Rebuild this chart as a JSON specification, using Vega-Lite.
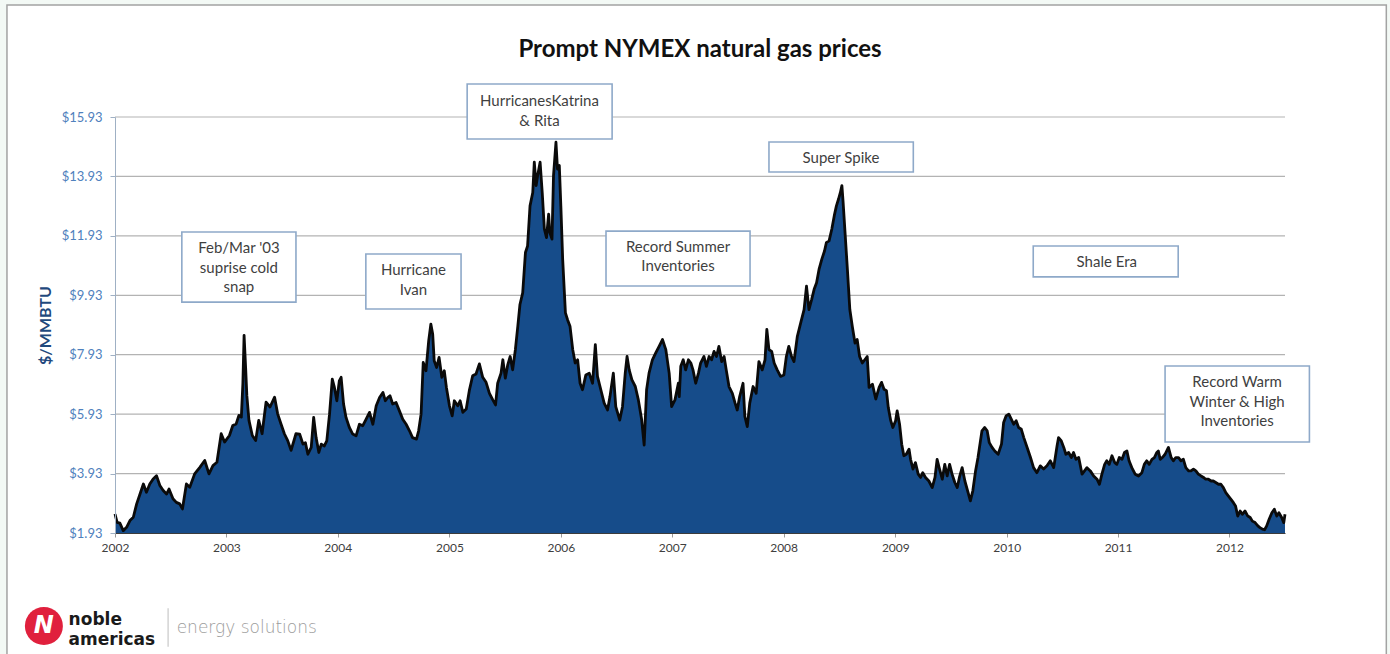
{
  "$schema": "https://vega.github.io/schema/vega-lite/v6.json",
  "width": 1170,
  "height": 416,
  "autosize": {"type": "none"},
  "padding": {"left": 115, "top": 117, "right": 105, "bottom": 121},
  "background": "#f3f9f5",
  "title": {
    "text": "Prompt NYMEX natural gas prices",
    "font": "Lato",
    "fontSize": 24,
    "fontWeight": "bold",
    "color": "#111111",
    "anchor": "middle",
    "frame": "group",
    "baseline": "alphabetic",
    "offset": -77
  },
  "config": {"view": {"stroke": null}, "font": "Lato"},
  "datasets": {
    "frame": [{"date": "2001-01-12", "date2": "2013-05-29", "price": 19.7, "price2": -2.4}],
    "grid": [{"price": 3.93}, {"price": 5.93}, {"price": 7.93}, {"price": 9.93}, {"price": 11.93}, {"price": 13.93}, {"price": 15.93}],
    "prices": [
      {"date": "2002-01-01", "price": 2.57}, {"date": "2002-01-08", "price": 2.29}, {"date": "2002-01-17", "price": 2.26}, {"date": "2002-01-28", "price": 2.01},
      {"date": "2002-02-08", "price": 2.12}, {"date": "2002-02-19", "price": 2.35}, {"date": "2002-03-02", "price": 2.46}, {"date": "2002-03-13", "price": 2.91},
      {"date": "2002-03-24", "price": 3.24}, {"date": "2002-04-04", "price": 3.58}, {"date": "2002-04-14", "price": 3.30}, {"date": "2002-04-25", "price": 3.58},
      {"date": "2002-05-06", "price": 3.75}, {"date": "2002-05-17", "price": 3.86}, {"date": "2002-05-28", "price": 3.53}, {"date": "2002-06-08", "price": 3.36},
      {"date": "2002-06-19", "price": 3.24}, {"date": "2002-06-27", "price": 3.41}, {"date": "2002-07-10", "price": 3.08}, {"date": "2002-07-21", "price": 2.96},
      {"date": "2002-08-01", "price": 2.91}, {"date": "2002-08-10", "price": 2.74}, {"date": "2002-08-23", "price": 3.58}, {"date": "2002-09-03", "price": 3.47},
      {"date": "2002-09-19", "price": 3.92}, {"date": "2002-10-06", "price": 4.14}, {"date": "2002-10-22", "price": 4.37}, {"date": "2002-11-05", "price": 3.92},
      {"date": "2002-11-18", "price": 4.20}, {"date": "2002-12-01", "price": 4.31}, {"date": "2002-12-15", "price": 5.27}, {"date": "2002-12-26", "price": 4.99},
      {"date": "2003-01-11", "price": 5.21}, {"date": "2003-01-22", "price": 5.55}, {"date": "2003-02-02", "price": 5.60}, {"date": "2003-02-11", "price": 5.89},
      {"date": "2003-02-19", "price": 5.83}, {"date": "2003-02-24", "price": 6.95}, {"date": "2003-02-28", "price": 8.58}, {"date": "2003-03-05", "price": 7.51},
      {"date": "2003-03-09", "price": 6.56}, {"date": "2003-03-16", "price": 5.72}, {"date": "2003-03-27", "price": 5.21}, {"date": "2003-04-07", "price": 5.04},
      {"date": "2003-04-17", "price": 5.72}, {"date": "2003-04-28", "price": 5.27}, {"date": "2003-05-11", "price": 6.33}, {"date": "2003-05-24", "price": 6.17},
      {"date": "2003-06-08", "price": 6.50}, {"date": "2003-06-18", "price": 5.94}, {"date": "2003-06-29", "price": 5.60}, {"date": "2003-07-10", "price": 5.27},
      {"date": "2003-07-21", "price": 5.04}, {"date": "2003-08-01", "price": 4.71}, {"date": "2003-08-17", "price": 5.27}, {"date": "2003-08-29", "price": 5.26},
      {"date": "2003-09-09", "price": 4.92}, {"date": "2003-09-17", "price": 4.97}, {"date": "2003-09-25", "price": 4.58}, {"date": "2003-10-06", "price": 4.81},
      {"date": "2003-10-14", "price": 5.82}, {"date": "2003-10-22", "price": 5.14}, {"date": "2003-10-31", "price": 4.64}, {"date": "2003-11-08", "price": 4.92},
      {"date": "2003-11-18", "price": 4.86}, {"date": "2003-11-26", "price": 5.03}, {"date": "2003-12-05", "price": 5.93}, {"date": "2003-12-14", "price": 7.11},
      {"date": "2003-12-21", "price": 6.83}, {"date": "2003-12-29", "price": 6.38}, {"date": "2004-01-06", "price": 7.05}, {"date": "2004-01-12", "price": 7.17},
      {"date": "2004-01-20", "price": 6.27}, {"date": "2004-01-28", "price": 5.82}, {"date": "2004-02-08", "price": 5.48}, {"date": "2004-02-19", "price": 5.26},
      {"date": "2004-03-01", "price": 5.20}, {"date": "2004-03-12", "price": 5.59}, {"date": "2004-03-23", "price": 5.54}, {"date": "2004-04-03", "price": 5.76},
      {"date": "2004-04-14", "price": 5.99}, {"date": "2004-04-25", "price": 5.59}, {"date": "2004-05-06", "price": 6.21}, {"date": "2004-05-17", "price": 6.49},
      {"date": "2004-05-28", "price": 6.66}, {"date": "2004-06-05", "price": 6.38}, {"date": "2004-06-13", "price": 6.49}, {"date": "2004-06-20", "price": 6.55},
      {"date": "2004-06-29", "price": 6.27}, {"date": "2004-07-10", "price": 6.32}, {"date": "2004-07-21", "price": 6.04}, {"date": "2004-08-01", "price": 5.76},
      {"date": "2004-08-12", "price": 5.59}, {"date": "2004-08-23", "price": 5.37}, {"date": "2004-09-02", "price": 5.14}, {"date": "2004-09-15", "price": 5.09},
      {"date": "2004-09-22", "price": 5.37}, {"date": "2004-09-30", "price": 5.93}, {"date": "2004-10-07", "price": 7.67}, {"date": "2004-10-16", "price": 7.39},
      {"date": "2004-10-25", "price": 8.40}, {"date": "2004-11-01", "price": 8.96}, {"date": "2004-11-07", "price": 8.63}, {"date": "2004-11-12", "price": 7.73},
      {"date": "2004-11-20", "price": 7.50}, {"date": "2004-11-28", "price": 7.84}, {"date": "2004-12-07", "price": 7.17}, {"date": "2004-12-15", "price": 7.39},
      {"date": "2004-12-22", "price": 6.83}, {"date": "2005-01-01", "price": 6.21}, {"date": "2005-01-10", "price": 5.87}, {"date": "2005-01-17", "price": 6.38},
      {"date": "2005-01-28", "price": 6.21}, {"date": "2005-02-05", "price": 6.38}, {"date": "2005-02-14", "price": 5.99}, {"date": "2005-02-25", "price": 6.10},
      {"date": "2005-03-07", "price": 6.72}, {"date": "2005-03-18", "price": 7.22}, {"date": "2005-03-29", "price": 7.28}, {"date": "2005-04-09", "price": 7.62},
      {"date": "2005-04-20", "price": 7.17}, {"date": "2005-05-01", "price": 7.00}, {"date": "2005-05-12", "price": 6.63}, {"date": "2005-05-23", "price": 6.41},
      {"date": "2005-06-01", "price": 6.24}, {"date": "2005-06-08", "price": 6.97}, {"date": "2005-06-19", "price": 7.31}, {"date": "2005-06-25", "price": 7.76},
      {"date": "2005-07-03", "price": 7.14}, {"date": "2005-07-11", "price": 7.59}, {"date": "2005-07-19", "price": 7.87}, {"date": "2005-07-27", "price": 7.42},
      {"date": "2005-08-05", "price": 8.10}, {"date": "2005-08-13", "price": 8.89}, {"date": "2005-08-20", "price": 9.62}, {"date": "2005-08-29", "price": 10.01},
      {"date": "2005-09-07", "price": 11.37}, {"date": "2005-09-14", "price": 11.59}, {"date": "2005-09-22", "price": 12.94}, {"date": "2005-10-01", "price": 13.39},
      {"date": "2005-10-06", "price": 14.41}, {"date": "2005-10-12", "price": 13.62}, {"date": "2005-10-17", "price": 13.96}, {"date": "2005-10-25", "price": 14.41},
      {"date": "2005-11-01", "price": 13.39}, {"date": "2005-11-08", "price": 12.16}, {"date": "2005-11-15", "price": 11.87}, {"date": "2005-11-22", "price": 12.66},
      {"date": "2005-11-26", "price": 12.04}, {"date": "2005-12-03", "price": 11.82}, {"date": "2005-12-08", "price": 13.96}, {"date": "2005-12-16", "price": 15.08},
      {"date": "2005-12-21", "price": 14.18}, {"date": "2005-12-27", "price": 14.30}, {"date": "2006-01-01", "price": 12.94}, {"date": "2006-01-07", "price": 11.14},
      {"date": "2006-01-16", "price": 9.34}, {"date": "2006-01-23", "price": 9.11}, {"date": "2006-01-31", "price": 8.89}, {"date": "2006-02-09", "price": 8.10},
      {"date": "2006-02-17", "price": 7.65}, {"date": "2006-02-25", "price": 7.76}, {"date": "2006-03-05", "price": 6.97}, {"date": "2006-03-13", "price": 6.75},
      {"date": "2006-03-24", "price": 7.25}, {"date": "2006-04-04", "price": 7.31}, {"date": "2006-04-15", "price": 6.97}, {"date": "2006-04-24", "price": 8.27},
      {"date": "2006-05-01", "price": 7.20}, {"date": "2006-05-12", "price": 6.75}, {"date": "2006-05-23", "price": 6.30}, {"date": "2006-06-03", "price": 6.07},
      {"date": "2006-06-11", "price": 6.52}, {"date": "2006-06-22", "price": 7.31}, {"date": "2006-06-30", "price": 6.18}, {"date": "2006-07-13", "price": 5.73},
      {"date": "2006-07-22", "price": 6.18}, {"date": "2006-07-31", "price": 7.31}, {"date": "2006-08-06", "price": 7.87}, {"date": "2006-08-13", "price": 7.42},
      {"date": "2006-08-22", "price": 7.08}, {"date": "2006-09-02", "price": 6.86}, {"date": "2006-09-12", "price": 6.41}, {"date": "2006-09-23", "price": 5.73},
      {"date": "2006-10-01", "price": 4.89}, {"date": "2006-10-09", "price": 6.75}, {"date": "2006-10-17", "price": 7.31}, {"date": "2006-10-28", "price": 7.76},
      {"date": "2006-11-08", "price": 7.99}, {"date": "2006-11-19", "price": 8.21}, {"date": "2006-11-30", "price": 8.44}, {"date": "2006-12-11", "price": 8.10},
      {"date": "2006-12-22", "price": 7.31}, {"date": "2006-12-30", "price": 6.18}, {"date": "2007-01-10", "price": 6.41}, {"date": "2007-01-21", "price": 6.97},
      {"date": "2007-01-24", "price": 6.52}, {"date": "2007-01-29", "price": 7.54}, {"date": "2007-02-06", "price": 7.76}, {"date": "2007-02-14", "price": 7.42},
      {"date": "2007-02-23", "price": 7.76}, {"date": "2007-03-03", "price": 7.65}, {"date": "2007-03-10", "price": 7.42}, {"date": "2007-03-19", "price": 6.97},
      {"date": "2007-03-28", "price": 7.31}, {"date": "2007-04-04", "price": 7.65}, {"date": "2007-04-15", "price": 7.87}, {"date": "2007-04-23", "price": 7.54},
      {"date": "2007-05-02", "price": 7.87}, {"date": "2007-05-10", "price": 7.76}, {"date": "2007-05-18", "price": 8.04}, {"date": "2007-05-26", "price": 7.87},
      {"date": "2007-06-03", "price": 8.21}, {"date": "2007-06-12", "price": 7.70}, {"date": "2007-06-20", "price": 7.87}, {"date": "2007-06-27", "price": 7.42},
      {"date": "2007-07-06", "price": 6.86}, {"date": "2007-07-17", "price": 6.63}, {"date": "2007-07-26", "price": 6.30}, {"date": "2007-08-02", "price": 6.07},
      {"date": "2007-08-10", "price": 6.52}, {"date": "2007-08-21", "price": 6.97}, {"date": "2007-08-27", "price": 5.85}, {"date": "2007-09-04", "price": 5.51},
      {"date": "2007-09-12", "price": 6.30}, {"date": "2007-09-23", "price": 6.86}, {"date": "2007-10-03", "price": 6.63}, {"date": "2007-10-12", "price": 7.70},
      {"date": "2007-10-23", "price": 7.42}, {"date": "2007-11-01", "price": 7.76}, {"date": "2007-11-07", "price": 8.78}, {"date": "2007-11-14", "price": 8.10},
      {"date": "2007-11-23", "price": 8.04}, {"date": "2007-12-01", "price": 7.65}, {"date": "2007-12-11", "price": 7.42}, {"date": "2007-12-22", "price": 7.20},
      {"date": "2008-01-02", "price": 7.25}, {"date": "2008-01-10", "price": 7.87}, {"date": "2008-01-18", "price": 8.21}, {"date": "2008-01-27", "price": 7.87},
      {"date": "2008-02-04", "price": 7.70}, {"date": "2008-02-15", "price": 8.55}, {"date": "2008-02-26", "price": 9.00}, {"date": "2008-03-08", "price": 9.45},
      {"date": "2008-03-16", "price": 10.24}, {"date": "2008-03-24", "price": 9.45}, {"date": "2008-04-02", "price": 9.79}, {"date": "2008-04-10", "price": 10.13},
      {"date": "2008-04-18", "price": 10.35}, {"date": "2008-04-26", "price": 10.80}, {"date": "2008-05-05", "price": 11.14}, {"date": "2008-05-14", "price": 11.42},
      {"date": "2008-05-20", "price": 11.70}, {"date": "2008-05-29", "price": 11.76}, {"date": "2008-06-07", "price": 12.16}, {"date": "2008-06-15", "price": 12.61},
      {"date": "2008-06-22", "price": 12.94}, {"date": "2008-06-29", "price": 13.17}, {"date": "2008-07-05", "price": 13.39}, {"date": "2008-07-10", "price": 13.62},
      {"date": "2008-07-14", "price": 13.06}, {"date": "2008-07-21", "price": 11.93}, {"date": "2008-07-28", "price": 10.80}, {"date": "2008-08-05", "price": 9.45},
      {"date": "2008-08-13", "price": 8.89}, {"date": "2008-08-22", "price": 8.32}, {"date": "2008-08-29", "price": 8.44}, {"date": "2008-09-06", "price": 7.87},
      {"date": "2008-09-15", "price": 7.65}, {"date": "2008-09-23", "price": 7.76}, {"date": "2008-10-01", "price": 7.87}, {"date": "2008-10-07", "price": 6.83},
      {"date": "2008-10-18", "price": 6.94}, {"date": "2008-10-29", "price": 6.44}, {"date": "2008-11-09", "price": 6.83}, {"date": "2008-11-17", "price": 7.00},
      {"date": "2008-11-25", "price": 6.77}, {"date": "2008-12-03", "price": 6.72}, {"date": "2008-12-09", "price": 6.15}, {"date": "2008-12-17", "price": 5.71},
      {"date": "2008-12-24", "price": 5.48}, {"date": "2009-01-02", "price": 5.71}, {"date": "2009-01-07", "price": 6.04}, {"date": "2009-01-15", "price": 5.59},
      {"date": "2009-01-22", "price": 4.92}, {"date": "2009-01-29", "price": 4.53}, {"date": "2009-02-06", "price": 4.58}, {"date": "2009-02-15", "price": 4.75},
      {"date": "2009-02-20", "price": 4.41}, {"date": "2009-02-28", "price": 4.08}, {"date": "2009-03-08", "price": 4.30}, {"date": "2009-03-17", "price": 3.91},
      {"date": "2009-03-25", "price": 3.80}, {"date": "2009-04-01", "price": 3.96}, {"date": "2009-04-10", "price": 3.80}, {"date": "2009-04-21", "price": 3.68},
      {"date": "2009-05-02", "price": 3.46}, {"date": "2009-05-11", "price": 3.80}, {"date": "2009-05-18", "price": 4.41}, {"date": "2009-05-26", "price": 4.08},
      {"date": "2009-06-04", "price": 3.74}, {"date": "2009-06-12", "price": 4.24}, {"date": "2009-06-20", "price": 3.85}, {"date": "2009-06-28", "price": 4.24},
      {"date": "2009-07-06", "price": 3.91}, {"date": "2009-07-15", "price": 3.63}, {"date": "2009-07-23", "price": 3.46}, {"date": "2009-07-30", "price": 3.80},
      {"date": "2009-08-08", "price": 4.13}, {"date": "2009-08-17", "price": 3.68}, {"date": "2009-08-26", "price": 3.35}, {"date": "2009-09-04", "price": 3.01},
      {"date": "2009-09-12", "price": 3.35}, {"date": "2009-09-21", "price": 4.02}, {"date": "2009-09-29", "price": 4.47}, {"date": "2009-10-07", "price": 5.03},
      {"date": "2009-10-12", "price": 5.37}, {"date": "2009-10-21", "price": 5.48}, {"date": "2009-10-29", "price": 5.37}, {"date": "2009-11-05", "price": 4.97},
      {"date": "2009-11-14", "price": 4.81}, {"date": "2009-11-23", "price": 4.69}, {"date": "2009-12-04", "price": 4.58}, {"date": "2009-12-15", "price": 4.92},
      {"date": "2009-12-22", "price": 5.65}, {"date": "2009-12-30", "price": 5.87}, {"date": "2010-01-08", "price": 5.93}, {"date": "2010-01-16", "price": 5.76},
      {"date": "2010-01-24", "price": 5.59}, {"date": "2010-02-01", "price": 5.71}, {"date": "2010-02-09", "price": 5.48}, {"date": "2010-02-18", "price": 5.42},
      {"date": "2010-02-26", "price": 5.14}, {"date": "2010-03-09", "price": 4.81}, {"date": "2010-03-20", "price": 4.47}, {"date": "2010-03-30", "price": 4.13},
      {"date": "2010-04-10", "price": 3.96}, {"date": "2010-04-21", "price": 4.19}, {"date": "2010-05-02", "price": 4.08}, {"date": "2010-05-13", "price": 4.19},
      {"date": "2010-05-24", "price": 4.36}, {"date": "2010-06-04", "price": 4.13}, {"date": "2010-06-15", "price": 4.86}, {"date": "2010-06-20", "price": 5.14},
      {"date": "2010-06-29", "price": 5.03}, {"date": "2010-07-07", "price": 4.81}, {"date": "2010-07-14", "price": 4.58}, {"date": "2010-07-23", "price": 4.64},
      {"date": "2010-08-01", "price": 4.47}, {"date": "2010-08-08", "price": 4.64}, {"date": "2010-08-16", "price": 4.41}, {"date": "2010-08-25", "price": 4.47},
      {"date": "2010-09-05", "price": 3.91}, {"date": "2010-09-13", "price": 4.02}, {"date": "2010-09-21", "price": 4.13}, {"date": "2010-10-02", "price": 4.02},
      {"date": "2010-10-13", "price": 3.85}, {"date": "2010-10-24", "price": 3.74}, {"date": "2010-11-01", "price": 3.57}, {"date": "2010-11-09", "price": 3.91},
      {"date": "2010-11-18", "price": 4.24}, {"date": "2010-11-25", "price": 4.36}, {"date": "2010-12-03", "price": 4.24}, {"date": "2010-12-12", "price": 4.53},
      {"date": "2010-12-21", "price": 4.30}, {"date": "2010-12-28", "price": 4.24}, {"date": "2011-01-05", "price": 4.47}, {"date": "2011-01-14", "price": 4.41},
      {"date": "2011-01-22", "price": 4.64}, {"date": "2011-01-30", "price": 4.69}, {"date": "2011-02-06", "price": 4.36}, {"date": "2011-02-15", "price": 4.13},
      {"date": "2011-02-26", "price": 3.91}, {"date": "2011-03-09", "price": 3.85}, {"date": "2011-03-20", "price": 3.96}, {"date": "2011-03-28", "price": 4.24},
      {"date": "2011-04-05", "price": 4.36}, {"date": "2011-04-13", "price": 4.24}, {"date": "2011-04-22", "price": 4.41}, {"date": "2011-04-30", "price": 4.47},
      {"date": "2011-05-08", "price": 4.64}, {"date": "2011-05-13", "price": 4.69}, {"date": "2011-05-19", "price": 4.41}, {"date": "2011-05-26", "price": 4.47},
      {"date": "2011-06-04", "price": 4.58}, {"date": "2011-06-15", "price": 4.81}, {"date": "2011-06-24", "price": 4.47}, {"date": "2011-07-01", "price": 4.36},
      {"date": "2011-07-09", "price": 4.47}, {"date": "2011-07-18", "price": 4.47}, {"date": "2011-07-26", "price": 4.36}, {"date": "2011-08-03", "price": 4.41},
      {"date": "2011-08-11", "price": 4.13}, {"date": "2011-08-20", "price": 4.02}, {"date": "2011-08-28", "price": 4.02}, {"date": "2011-09-05", "price": 4.08},
      {"date": "2011-09-13", "price": 4.02}, {"date": "2011-09-21", "price": 3.91}, {"date": "2011-09-30", "price": 3.85}, {"date": "2011-10-08", "price": 3.80},
      {"date": "2011-10-15", "price": 3.74}, {"date": "2011-10-24", "price": 3.74}, {"date": "2011-11-02", "price": 3.68}, {"date": "2011-11-09", "price": 3.68},
      {"date": "2011-11-17", "price": 3.63}, {"date": "2011-11-26", "price": 3.57}, {"date": "2011-12-04", "price": 3.57}, {"date": "2011-12-12", "price": 3.46},
      {"date": "2011-12-20", "price": 3.29}, {"date": "2011-12-28", "price": 3.18}, {"date": "2012-01-06", "price": 3.06}, {"date": "2012-01-14", "price": 2.95},
      {"date": "2012-01-21", "price": 2.84}, {"date": "2012-01-28", "price": 2.50}, {"date": "2012-02-05", "price": 2.67}, {"date": "2012-02-12", "price": 2.56},
      {"date": "2012-02-21", "price": 2.67}, {"date": "2012-03-01", "price": 2.50}, {"date": "2012-03-09", "price": 2.45}, {"date": "2012-03-16", "price": 2.33},
      {"date": "2012-03-25", "price": 2.28}, {"date": "2012-04-03", "price": 2.17}, {"date": "2012-04-10", "price": 2.11}, {"date": "2012-04-18", "price": 2.06},
      {"date": "2012-04-25", "price": 2.04}, {"date": "2012-05-02", "price": 2.17}, {"date": "2012-05-10", "price": 2.39}, {"date": "2012-05-19", "price": 2.61},
      {"date": "2012-05-27", "price": 2.73}, {"date": "2012-06-04", "price": 2.50}, {"date": "2012-06-11", "price": 2.61}, {"date": "2012-06-20", "price": 2.45},
      {"date": "2012-06-27", "price": 2.28}, {"date": "2012-07-01", "price": 2.56}
    ],
    "boxes": [
      {"date": "2002-08-08", "date2": "2003-08-17", "price": 12.06, "price2": 9.70},
      {"date": "2004-04-02", "date2": "2005-02-08", "price": 11.32, "price2": 9.47},
      {"date": "2005-02-28", "date2": "2006-06-18", "price": 17.04, "price2": 15.19},
      {"date": "2006-05-29", "date2": "2007-09-13", "price": 12.09, "price2": 10.24},
      {"date": "2007-11-14", "date2": "2009-03-01", "price": 15.09, "price2": 14.08},
      {"date": "2010-03-29", "date2": "2011-07-17", "price": 11.59, "price2": 10.55},
      {"date": "2011-06-04", "date2": "2012-09-19", "price": 7.55, "price2": 4.99}
    ],
    "notes": [
      {"date": "2003-02-11", "price": 11.52, "label": "Feb/Mar '03"},
      {"date": "2003-02-11", "price": 10.85, "label": "suprise cold"},
      {"date": "2003-02-11", "price": 10.21, "label": "snap"},
      {"date": "2004-09-05", "price": 10.78, "label": "Hurricane"},
      {"date": "2004-09-05", "price": 10.11, "label": "Ivan"},
      {"date": "2005-10-23", "price": 16.48, "label": "HurricanesKatrina"},
      {"date": "2005-10-23", "price": 15.81, "label": "& Rita"},
      {"date": "2007-01-20", "price": 11.57, "label": "Record Summer"},
      {"date": "2007-01-20", "price": 10.92, "label": "Inventories"},
      {"date": "2008-07-07", "price": 14.55, "label": "Super Spike"},
      {"date": "2010-11-25", "price": 11.05, "label": "Shale Era"},
      {"date": "2012-01-26", "price": 7.02, "label": "Record Warm"},
      {"date": "2012-01-26", "price": 6.35, "label": "Winter & High"},
      {"date": "2012-01-26", "price": 5.70, "label": "Inventories"}
    ],
    "badge": [{"date": "2001-05-13", "price": -1.20, "label": "N"}],
    "brand": [
      {"date": "2001-08-02", "price": -1.17, "label": "noble"},
      {"date": "2001-08-02", "price": -1.83, "label": "americas"}
    ],
    "divider": [{"date": "2002-06-24", "price": -0.60, "price2": -1.90}],
    "tagline": [{"date": "2002-07-22", "price": -1.44, "label": "energy solutions"}]
  },
  "layer": [
    {
      "data": {"name": "frame"},
      "mark": {"type": "rect", "fill": "#ffffff", "stroke": "#a3a3a3", "strokeWidth": 1.5},
      "encoding": {
        "x": {"field": "date", "type": "temporal", "title": null},
        "x2": {"field": "date2"},
        "y": {"field": "price", "type": "quantitative", "title": "$/MMBTU"},
        "y2": {"field": "price2"}
      }
    },
    {
      "data": {"name": "grid"},
      "mark": {"type": "rule", "color": "#b3b3b3", "strokeWidth": 1.2},
      "encoding": {
        "y": {"field": "price", "type": "quantitative", "title": "$/MMBTU"}
      }
    },
    {
      "data": {"name": "prices"},
      "mark": {
        "type": "area",
        "color": "#164c8a",
        "opacity": 1,
        "line": {"color": "#0a0a0a", "strokeWidth": 2.8, "strokeJoin": "round"}
      },
      "encoding": {
        "x": {
          "field": "date",
          "type": "temporal",
          "title": null,
          "scale": {
            "type": "utc",
            "nice": false,
            "domain": [
              {"year": 2002, "month": 1, "date": 1, "utc": true},
              {"year": 2012, "month": 7, "date": 1, "utc": true}
            ]
          },
          "axis": {
            "values": [
              {"year": 2002, "month": 1, "date": 1, "utc": true},
              {"year": 2003, "month": 1, "date": 1, "utc": true},
              {"year": 2004, "month": 1, "date": 1, "utc": true},
              {"year": 2005, "month": 1, "date": 1, "utc": true},
              {"year": 2006, "month": 1, "date": 1, "utc": true},
              {"year": 2007, "month": 1, "date": 1, "utc": true},
              {"year": 2008, "month": 1, "date": 1, "utc": true},
              {"year": 2009, "month": 1, "date": 1, "utc": true},
              {"year": 2010, "month": 1, "date": 1, "utc": true},
              {"year": 2011, "month": 1, "date": 1, "utc": true},
              {"year": 2012, "month": 1, "date": 1, "utc": true}
            ],
            "format": "%Y",
            "grid": false,
            "zindex": 1,
            "labelFlush": false,
            "labelOverlap": false,
            "labelFont": "Lato",
            "labelFontSize": 12,
            "labelColor": "#404040",
            "labelPadding": 5,
            "tickSize": 4,
            "tickColor": "#9a9a9a",
            "domainColor": "#3c3c3c",
            "domainWidth": 1.2
          }
        },
        "y": {
          "field": "price",
          "type": "quantitative",
          "title": "$/MMBTU",
          "scale": {"domain": [1.93, 15.93], "nice": false, "zero": false},
          "axis": {
            "values": [1.93, 3.93, 5.93, 7.93, 9.93, 11.93, 13.93, 15.93],
            "format": "$.2f",
            "grid": false,
            "zindex": 1,
            "labelFont": "Lato",
            "labelFontSize": 13,
            "labelColor": "#4f81bd",
            "labelPadding": 8,
            "tickSize": 5,
            "tickColor": "#9fb0c4",
            "domainColor": "#9fb0c4",
            "titleFont": "Lato",
            "titleFontSize": 16,
            "titleFontWeight": "bold",
            "titleColor": "#1f497d",
            "titlePadding": 8
          }
        },
        "y2": {"datum": 1.93}
      }
    },
    {
      "data": {"name": "boxes"},
      "mark": {"type": "rect", "fill": "#ffffff", "stroke": "#8ea9c9", "strokeWidth": 1.6},
      "encoding": {
        "x": {"field": "date", "type": "temporal", "title": null},
        "x2": {"field": "date2"},
        "y": {"field": "price", "type": "quantitative", "title": "$/MMBTU"},
        "y2": {"field": "price2"}
      }
    },
    {
      "data": {"name": "notes"},
      "mark": {"type": "text", "font": "Lato", "fontSize": 15, "color": "#3f3f3f", "align": "center", "baseline": "middle"},
      "encoding": {
        "x": {"field": "date", "type": "temporal", "title": null},
        "y": {"field": "price", "type": "quantitative", "title": "$/MMBTU"},
        "text": {"field": "label"}
      }
    },
    {
      "data": {"name": "badge"},
      "mark": {"type": "point", "shape": "circle", "filled": true, "size": 1444, "color": "#e0203d", "opacity": 1},
      "encoding": {
        "x": {"field": "date", "type": "temporal", "title": null},
        "y": {"field": "price", "type": "quantitative", "title": "$/MMBTU"}
      }
    },
    {
      "data": {"name": "badge"},
      "mark": {"type": "text", "font": "DejaVu Sans", "fontSize": 24, "fontWeight": "bold", "fontStyle": "italic", "color": "#ffffff", "align": "center", "baseline": "middle"},
      "encoding": {
        "x": {"field": "date", "type": "temporal", "title": null},
        "y": {"field": "price", "type": "quantitative", "title": "$/MMBTU"},
        "text": {"field": "label"}
      }
    },
    {
      "data": {"name": "brand"},
      "mark": {"type": "text", "font": "DejaVu Sans", "fontSize": 17, "fontWeight": "bold", "color": "#1a1a1a", "align": "left", "baseline": "alphabetic"},
      "encoding": {
        "x": {"field": "date", "type": "temporal", "title": null},
        "y": {"field": "price", "type": "quantitative", "title": "$/MMBTU"},
        "text": {"field": "label"}
      }
    },
    {
      "data": {"name": "divider"},
      "mark": {"type": "rule", "color": "#c8c8c8", "strokeWidth": 1.2},
      "encoding": {
        "x": {"field": "date", "type": "temporal", "title": null},
        "y": {"field": "price", "type": "quantitative", "title": "$/MMBTU"},
        "y2": {"field": "price2"}
      }
    },
    {
      "data": {"name": "tagline"},
      "mark": {"type": "text", "font": "DejaVu Sans", "fontSize": 17, "fontWeight": 200, "color": "#9c9c9c", "align": "left", "baseline": "alphabetic"},
      "encoding": {
        "x": {"field": "date", "type": "temporal", "title": null},
        "y": {"field": "price", "type": "quantitative", "title": "$/MMBTU"},
        "text": {"field": "label"}
      }
    }
  ]
}
